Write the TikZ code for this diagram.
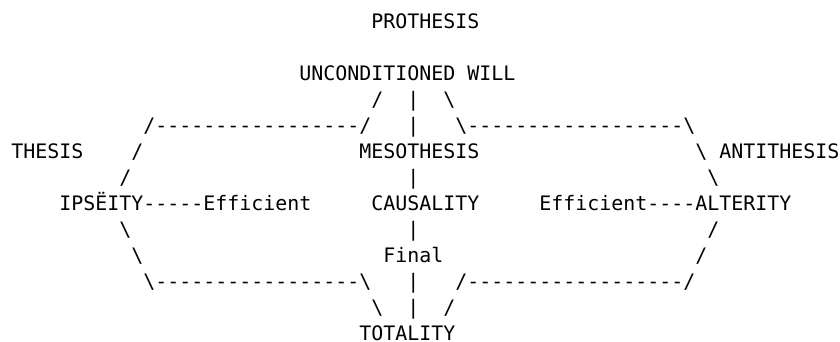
\documentclass[tikz,border=0pt]{standalone}
\usepackage{fontspec}
\newfontfamily\asciifont{DejaVu Sans Mono}[Ligatures=TeXOff]
\newcommand{\bs}{\textbackslash}
\tikzset{
asciitext/.style={anchor=base west, inner sep=0pt, outer sep=0pt, font=\asciifont\fontsize{14.95pt}{19.5pt}\selectfont},
}

\begin{document}
\begin{tikzpicture}[x=9pt, y=-19.5pt]
    \useasboundingbox (-0.942,-1.096) rectangle (69.06,12.058);
    % top
    \node[asciitext] at (30,0) (prothesis) {PROTHESIS};
    \node[asciitext] at (24,2) (will) {UNCONDITIONED WILL};
    \node[asciitext] at (30,3) (willleft) {/};
    \node[asciitext] at (33,3) (willmid) {|};
    \node[asciitext] at (36,3) (willright) {\bs};
    \node[asciitext] at (11,4) (topleft) {/-----------------/};
    \node[asciitext] at (33,4) (topmid) {|};
    \node[asciitext] at (37,4) (topright) {\bs------------------\bs};
    % middle
    \node[asciitext] at (0,5) (thesis) {THESIS};
    \node[asciitext] at (10,5) (thesisline) {/};
    \node[asciitext] at (29,5) (mesothesis) {MESOTHESIS};
    \node[asciitext] at (57,5) (antithesisline) {\bs};
    \node[asciitext] at (59,5) (antithesis) {ANTITHESIS};
    \node[asciitext] at (9,6) (ipseityup) {/};
    \node[asciitext] at (33,6) (causalityup) {|};
    \node[asciitext] at (58,6) (alterityup) {\bs};
    \node[asciitext] at (4,7) (ipseity) {IPSËITY};
    \node[asciitext] at (11,7) (ipseitylink) {-----};
    \node[asciitext] at (16,7) (effleft) {Efficient};
    \node[asciitext] at (30,7) (causality) {CAUSALITY};
    \node[asciitext] at (44,7) (effright) {Efficient};
    \node[asciitext] at (53,7) (alteritylink) {----};
    \node[asciitext] at (57,7) (alterity) {ALTERITY};
    \node[asciitext] at (9,8) (ipseitydown) {\bs};
    \node[asciitext] at (33,8) (causalitydown) {|};
    \node[asciitext] at (58,8) (alteritydown) {/};
    \node[asciitext] at (10,9) (lowleftline) {\bs};
    \node[asciitext] at (31,9) (final) {Final};
    \node[asciitext] at (57,9) (lowrightline) {/};
    % bottom
    \node[asciitext] at (11,10) (botleft) {\bs-----------------\bs};
    \node[asciitext] at (33,10) (botmid) {|};
    \node[asciitext] at (37,10) (botright) {/------------------/};
    \node[asciitext] at (30,11) (totleft) {\bs};
    \node[asciitext] at (33,11) (totmid) {|};
    \node[asciitext] at (36,11) (totright) {/};
    \node[asciitext] at (29,12) (totality) {TOTALITY};
\end{tikzpicture}
\end{document}
